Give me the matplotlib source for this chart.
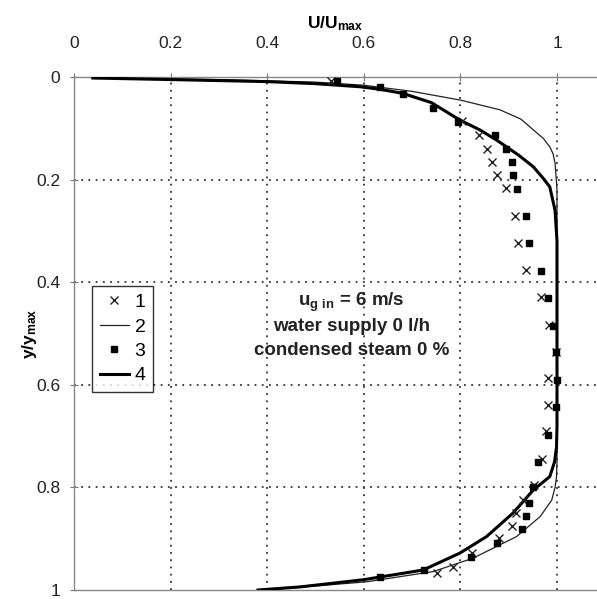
import matplotlib
matplotlib.use("Agg")
import matplotlib.pyplot as plt

plt.rcParams['font.family'] = ['Liberation Sans', 'DejaVu Sans']
plt.rcParams['mathtext.fontset'] = 'custom'
plt.rcParams['mathtext.rm'] = 'Liberation Sans'
plt.rcParams['mathtext.bf'] = 'Liberation Sans:bold'

# series 1 (x markers), measured points: y/ymax and U/Umax
y1 = [0.007, 0.086, 0.113, 0.140, 0.166, 0.192, 0.217, 0.270, 0.323, 0.376,
      0.429, 0.483, 0.537, 0.587, 0.639, 0.691, 0.745, 0.795, 0.825, 0.850,
      0.875, 0.899, 0.928, 0.955, 0.967]
u1 = [0.533, 0.804, 0.838, 0.856, 0.865, 0.876, 0.894, 0.913, 0.920, 0.936,
      0.966, 0.984, 0.998, 0.982, 0.982, 0.977, 0.968, 0.952, 0.929, 0.915,
      0.906, 0.879, 0.823, 0.785, 0.752]

# series 3 (square markers)
y3 = [0.007, 0.019, 0.033, 0.061, 0.087, 0.113, 0.140, 0.166, 0.192, 0.218,
      0.270, 0.324, 0.378, 0.431, 0.485, 0.537, 0.591, 0.644, 0.697, 0.750,
      0.800, 0.830, 0.855, 0.882, 0.908, 0.935, 0.961, 0.974]
u3 = [0.544, 0.634, 0.681, 0.744, 0.795, 0.872, 0.894, 0.906, 0.909, 0.918,
      0.935, 0.943, 0.966, 0.982, 0.991, 0.998, 1.000, 0.998, 0.982, 0.961,
      0.951, 0.943, 0.936, 0.927, 0.876, 0.822, 0.724, 0.634]

# series 2 (thin line)
y2 = [0.002, 0.005, 0.010, 0.016, 0.028, 0.045, 0.064, 0.082, 0.103, 0.120,
      0.136, 0.150, 0.168, 0.22, 0.5, 0.75, 0.779, 0.80, 0.825, 0.857, 0.896,
      0.938, 0.964, 0.984, 0.996, 1.0]
u2 = [0.039, 0.3, 0.5, 0.6, 0.7, 0.8, 0.882, 0.925, 0.951, 0.972,
      0.985, 0.992, 0.996, 1.0, 1.0, 1.0, 0.999, 0.996, 0.989, 0.965, 0.916,
      0.826, 0.744, 0.606, 0.45, 0.381]

# series 4 (thick line)
y4 = [0.002, 0.005, 0.009, 0.013, 0.019, 0.024, 0.032, 0.050, 0.084, 0.103,
      0.123, 0.152, 0.175, 0.197, 0.214, 0.26, 0.32, 0.5, 0.68, 0.721, 0.750,
      0.779, 0.805, 0.85, 0.896, 0.928, 0.961, 0.98, 0.994, 1.0]
u4 = [0.039, 0.2, 0.4, 0.5, 0.592, 0.634, 0.681, 0.74, 0.799, 0.84,
      0.875, 0.92, 0.951, 0.971, 0.985, 0.996, 1.0, 1.0, 1.0, 0.999, 0.995,
      0.985, 0.951, 0.909, 0.854, 0.799, 0.723, 0.599, 0.468, 0.381]

xticks = [0, 0.2, 0.4, 0.6, 0.8, 1]
yticks = [0, 0.2, 0.4, 0.6, 0.8, 1]
xticklabels = ['0', '0.2', '0.4', '0.6', '0.8', '1']
yticklabels = ['0', '0.2', '0.4', '0.6', '0.8', '1']

fig = plt.figure(figsize=(5.97, 5.99), dpi=100)
ax = fig.add_axes([74 / 597, 1 - 590 / 599, 1 - 74 / 597, (590 - 77) / 599])

ax.plot(u1, y1, linestyle='none', marker='x', color='#222222', markersize=6,
        markeredgewidth=1.0, label='1', zorder=4)
ax.plot(u2, y2, color='#222222', linewidth=0.9, label='2', zorder=3)
ax.plot(u3, y3, linestyle='none', marker='s', color='black', markersize=4.5,
        label='3', zorder=4)
ax.plot(u4, y4, color='black', linewidth=2.2, label='4', zorder=3)

ax.set_xlim(0, (597 - 74) / 483)
ax.set_ylim(1, 0)
ax.xaxis.tick_top()
ax.xaxis.set_label_position('top')
ax.set_xticks(xticks)
ax.set_xticklabels(xticklabels)
ax.set_yticks(yticks)
ax.set_yticklabels(yticklabels)
ax.tick_params(axis='both', labelsize=12.5, direction='inout', length=6,
               width=0.8, color='#777777', labelcolor='#222222')
ax.tick_params(axis='x', pad=16)
ax.tick_params(axis='y', pad=7)

ax.set_xlabel(r'$\mathbf{U/U_{max}}$', fontsize=12.5, labelpad=5)
ax.set_ylabel(r'$\mathbf{y/y_{max}}$', fontsize=12.5, labelpad=-2)

for s in ['top', 'left', 'bottom']:
    ax.spines[s].set_color('#888888')
    ax.spines[s].set_linewidth(1.0)
ax.spines['right'].set_visible(False)

# dotted grid, skipping the zero lines
for v in xticks[1:]:
    ax.axvline(v, color='#333333', linestyle=(0, (1, 3)), linewidth=1.3, zorder=1)
for v in yticks[1:-1]:
    ax.axhline(v, color='#333333', linestyle=(0, (1, 3)), linewidth=1.3, zorder=1)

ax.text(0.575, 0.44, r'$\mathbf{u_{g\ in}}$ = 6 m/s', fontsize=13.5,
        fontweight='bold', ha='center', va='center', color='#222222')
ax.text(0.575, 0.487, 'water supply 0 l/h', fontsize=13.5,
        fontweight='bold', ha='center', va='center', color='#222222')
ax.text(0.575, 0.533, 'condensed steam 0 %', fontsize=13.5,
        fontweight='bold', ha='center', va='center', color='#222222')

leg = ax.legend(loc='upper left', bbox_to_anchor=(0.034, 0.593), fontsize=14,
                frameon=True, fancybox=False, edgecolor='black',
                handlelength=1.5, handletextpad=0.3, labelspacing=0.35,
                borderpad=0.4, borderaxespad=0)
leg.get_frame().set_linewidth(1.0)

fig.savefig('out.png', dpi=100)
